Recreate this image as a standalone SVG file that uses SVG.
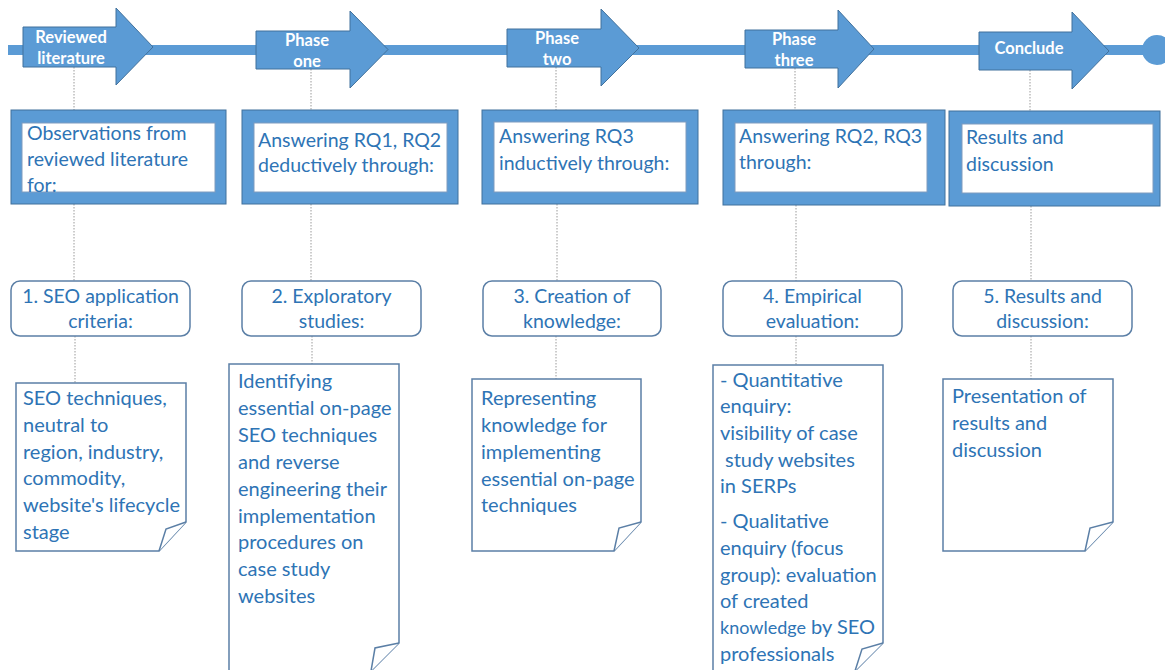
<svg xmlns="http://www.w3.org/2000/svg" width="1165" height="670" viewBox="0 0 1165 670">
<defs>
<style>
.arw{fill:#5B9BD5;stroke:#41719C;stroke-width:1}
.at{fill:#fff;font-family:Lato,"Liberation Sans",sans-serif;font-weight:bold;font-size:16.5px;text-anchor:middle}
.ob{fill:#5B9BD5;stroke:#41719C;stroke-width:1}
.ib{fill:#fff;stroke:#7f9cbf;stroke-width:1}
.t{fill:#2E74B5;font-family:Lato,"Liberation Sans",sans-serif;font-size:19.5px}
.rb{fill:#fff;stroke:#5B7FA6;stroke-width:1.5}
.rt{fill:#2E74B5;font-family:Lato,"Liberation Sans",sans-serif;font-size:19.5px;text-anchor:middle}
.nt{fill:#fff;stroke:#5B7FA6;stroke-width:1.5;stroke-linejoin:miter}
.n{fill:#2E74B5;font-family:Lato,"Liberation Sans",sans-serif;font-size:20px}
.c{stroke:#9a9a9a;stroke-width:1;stroke-dasharray:1.5 1.5;fill:none}
</style>
<clipPath id="clip1"><rect x="22" y="123" width="193" height="69"/></clipPath>
</defs>
<rect width="1165" height="670" fill="#fff"/>

<g id="timeline">
<rect x="8" y="45" width="1150" height="10" fill="#5B9BD5"/>
<circle cx="1157" cy="50" r="15" fill="#5B9BD5"/>
</g>

<g id="connectors">
<path class="c" d="M74 67V110M74 204V281M75 336V383"/>
<path class="c" d="M311 69V110M311 204V281M312 336V364"/>
<path class="c" d="M556 67V110M557 204V281M556 336V379"/>
<path class="c" d="M795 68V110M796 205V281M796 336V365"/>
<path class="c" d="M1030 70V111M1031 206V281M1031 336V379"/>
</g>

<g id="arrow1">
<polygon class="arw" points="23,27 116,27 116,8 153,47 116,85 116,67 23,67"/>
<text class="at" x="71" y="43">Reviewed</text>
<text class="at" x="71" y="64">literature</text>
</g>
<g id="arrow2">
<polygon class="arw" points="256,31 350,31 350,11 388,49.5 350,88 350,69 256,69"/>
<text class="at" x="307" y="46">Phase</text>
<text class="at" x="307" y="67">one</text>
</g>
<g id="arrow3">
<polygon class="arw" points="507,29 601,29 601,9 639,48 601,86 601,67 507,67"/>
<text class="at" x="557" y="44">Phase</text>
<text class="at" x="557" y="65">two</text>
</g>
<g id="arrow4">
<polygon class="arw" points="745,30 838,30 838,10 874,49 838,88 838,68 745,68"/>
<text class="at" x="794" y="45">Phase</text>
<text class="at" x="794" y="66">three</text>
</g>
<g id="arrow5">
<polygon class="arw" points="979,32 1072,32 1072,12 1109,51 1072,89 1072,70 979,70"/>
<text class="at" x="1029" y="54">Conclude</text>
</g>

<g id="box1">
<rect class="ob" x="11" y="110" width="215" height="94"/>
<rect class="ib" x="22" y="123" width="193" height="69"/>
<g clip-path="url(#clip1)">
<text class="t" x="27" y="140" font-size="18.5">Observations from</text>
<text class="t" x="27" y="166" font-size="18.5">reviewed literature</text>
<text class="t" x="27" y="192" font-size="18.5">for:</text>
</g>
</g>
<g id="box2">
<rect class="ob" x="242" y="110" width="216" height="94"/>
<rect class="ib" x="254" y="123" width="193" height="69"/>
<text class="t" x="258" y="147">Answering RQ1, RQ2</text>
<text class="t" x="258" y="172">deductively through:</text>
</g>
<g id="box3">
<rect class="ob" x="482" y="110" width="216" height="94"/>
<rect class="ib" x="494" y="122" width="192" height="70"/>
<text class="t" x="499" y="143">Answering RQ3</text>
<text class="t" x="499" y="170">inductively through:</text>
</g>
<g id="box4">
<rect class="ob" x="723" y="110" width="222" height="95"/>
<rect class="ib" x="735" y="123" width="192" height="69"/>
<text class="t" x="739" y="143">Answering RQ2, RQ3</text>
<text class="t" x="739" y="169">through:</text>
</g>
<g id="box5">
<rect class="ob" x="949" y="111" width="211" height="95"/>
<rect class="ib" x="962" y="124" width="191" height="69"/>
<text class="t" x="966" y="144" font-size="20">Results and</text>
<text class="t" x="966" y="171" font-size="20">discussion</text>
</g>

<g id="step1">
<rect class="rb" x="11" y="281" width="179" height="55" rx="9"/>
<text class="rt" x="100.5" y="303" font-size="18.8">1. SEO application</text>
<text class="rt" x="100.5" y="328">criteria:</text>
</g>
<g id="step2">
<rect class="rb" x="242" y="281" width="179" height="55" rx="9"/>
<text class="rt" x="331.5" y="303">2. Exploratory</text>
<text class="rt" x="331.5" y="328">studies:</text>
</g>
<g id="step3">
<rect class="rb" x="483" y="281" width="178" height="55" rx="9"/>
<text class="rt" x="572" y="303">3. Creation of</text>
<text class="rt" x="572" y="328">knowledge:</text>
</g>
<g id="step4">
<rect class="rb" x="723" y="281" width="179" height="55" rx="9"/>
<text class="rt" x="812.5" y="303">4. Empirical</text>
<text class="rt" x="812.5" y="328">evaluation:</text>
</g>
<g id="step5">
<rect class="rb" x="953" y="281" width="179" height="55" rx="9"/>
<text class="rt" x="1042.5" y="303">5. Results and</text>
<text class="rt" x="1042.5" y="328">discussion:</text>
</g>

<g id="note1">
<path class="nt" d="M16 383H186V522L159 551H16Z"/>
<path class="nt" d="M186 522L166 529L159 551"/>
<text class="n" x="23" y="405">SEO techniques,</text>
<text class="n" x="23" y="432">neutral to</text>
<text class="n" x="23" y="459">region, industry,</text>
<text class="n" x="23" y="485">commodity,</text>
<text class="n" x="23" y="512">website's lifecycle</text>
<text class="n" x="23" y="539">stage</text>
</g>
<g id="note2">
<path class="nt" d="M229 364H399V643L371 671H229Z"/>
<path class="nt" d="M399 643L375 648L371 671"/>
<text class="n" x="238" y="388">Identifying</text>
<text class="n" x="238" y="415">essential on-page</text>
<text class="n" x="238" y="442">SEO techniques</text>
<text class="n" x="238" y="469">and reverse</text>
<text class="n" x="238" y="496">engineering their</text>
<text class="n" x="238" y="523">implementation</text>
<text class="n" x="238" y="549">procedures on</text>
<text class="n" x="238" y="576">case study</text>
<text class="n" x="238" y="603">websites</text>
</g>
<g id="note3">
<path class="nt" d="M472 379H641V522L614 551H472Z"/>
<path class="nt" d="M641 522L619 528L614 551"/>
<text class="n" x="481" y="405">Representing</text>
<text class="n" x="481" y="432">knowledge for</text>
<text class="n" x="481" y="459">implementing</text>
<text class="n" x="481" y="486">essential on-page</text>
<text class="n" x="481" y="512">techniques</text>
</g>
<g id="note4">
<path class="nt" d="M713 365H883V643L855 671H713Z"/>
<path class="nt" d="M883 643L862 649L855 671"/>
<text class="n" x="720" y="387">- Quantitative</text>
<text class="n" x="720" y="413">enquiry:</text>
<text class="n" x="720" y="440">visibility of case</text>
<text class="n" x="725" y="467">study websites</text>
<text class="n" x="720" y="493">in SERPs</text>
<text class="n" x="720" y="528">- Qualitative</text>
<text class="n" x="720" y="555">enquiry (focus</text>
<text class="n" x="720" y="582">group): evaluation</text>
<text class="n" x="720" y="608">of created</text>
<text class="n" x="720" y="634"><tspan font-size="18">knowledge</tspan> by SEO</text>
<text class="n" x="720" y="661">professionals</text>
</g>
<g id="note5">
<path class="nt" d="M943 379H1113V522L1085 551H943Z"/>
<path class="nt" d="M1113 522L1090 528L1085 551"/>
<text class="n" x="952" y="403">Presentation of</text>
<text class="n" x="952" y="430">results and</text>
<text class="n" x="952" y="457">discussion</text>
</g>
</svg>
